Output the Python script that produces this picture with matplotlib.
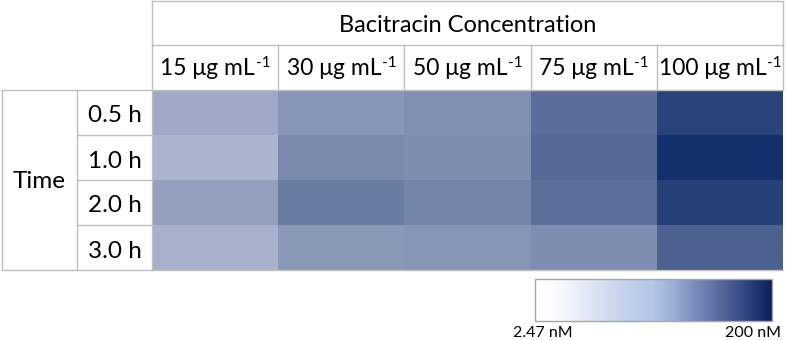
import matplotlib as mpl
import matplotlib.pyplot as plt
import numpy as np
from matplotlib.colors import LinearSegmentedColormap, Normalize

mpl.use('Agg')
plt.rcParams['font.family'] = ['Lato', 'DejaVu Sans']

# data (nM)
concentrations = ['15', '30', '50', '75', '100']
times = ['0.5 h', '1.0 h', '2.0 h', '3.0 h']
values = np.array([
    [82, 98, 103, 135, 177],
    [74, 108, 105, 138, 200],
    [91, 121, 113, 134, 181],
    [76, 96, 99, 105, 145],
])
vmin, vmax = 2.47, 200

# colour scales
cell_cmap = LinearSegmentedColormap.from_list('cells', [
    (0.0, '#ffffff'), (0.364, '#a9b3cd'), (0.533, '#7a8aad'),
    (0.672, '#5b6d98'), (0.723, '#4c6190'), (0.882, '#2b447b'),
    (1.0, '#13306c')])
bar_cmap = LinearSegmentedColormap.from_list('bar', [
    (0.0, '#ffffff'), (0.08, '#fbfcfe'), (0.2, '#e6ecf7'), (0.35, '#c8d5ed'),
    (0.5, '#b3c5e6'), (0.58, '#9cb0d8'), (0.67, '#7a8fbd'), (0.78, '#57699c'),
    (0.9, '#2c4280'), (1.0, '#0a1f5c')])
norm = Normalize(vmin=vmin, vmax=vmax)

W, H = 787, 340
fig = plt.figure(figsize=(W / 100, H / 100), dpi=100)
renderer = fig.canvas.get_renderer()

# layout in pixels
x0, x1 = 152, 783
ytop, yhead, ydata, ybot = 1, 45, 90, 270
line = dict(color='#bfbfbf', lw=1)

def fbox(l, t, r, b):
    return [l / W, 1 - b / H, (r - l) / W, (b - t) / H]

hax = fig.add_axes(fbox(x0, ydata, x1, ybot))
hax.pcolormesh(values, cmap=cell_cmap, norm=norm)
hax.set_xlim(0, values.shape[1])
hax.set_ylim(values.shape[0], 0)
hax.set_axis_off()

ov = fig.add_axes([0, 0, 1, 1], zorder=3)
ov.set_xlim(0, W)
ov.set_ylim(H, 0)
ov.set_axis_off()
ov.patch.set_alpha(0)

ncol, nrow = len(concentrations), len(times)
colw = (x1 - x0) / ncol
rowh = (ybot - ydata) / nrow
xl, xm = 2, 77

# header box
ov.plot([x0, x1, x1, x0, x0], [ytop, ytop, ydata, ydata, ytop], **line)
ov.plot([x0, x1], [yhead, yhead], **line)
for i in range(1, ncol):
    ov.plot([x0 + i * colw] * 2, [yhead, ydata], **line)
# left box
ov.plot([xl, x0, x0, xl, xl], [ydata, ydata, ybot, ybot, ydata], **line)
ov.plot([xm, xm], [ydata, ybot], **line)
for j in range(1, nrow):
    ov.plot([xm, x0], [ydata + j * rowh] * 2, **line)
ov.plot([x0, x1], [ybot, ybot], **line)

ov.text((x0 + x1) / 2, 32, 'Bacitracin Concentration',
        ha='center', va='baseline', fontsize=17)

# column labels with a raised "-1"
for i, c in enumerate(concentrations):
    cx = x0 + (i + 0.5) * colw
    base = ov.text(0, 75, c + ' μg mL', ha='left', va='baseline', fontsize=16.5)
    sup = ov.text(0, 67, '-1', ha='left', va='baseline', fontsize=11)
    wb = base.get_window_extent(renderer).width
    ws = sup.get_window_extent(renderer).width
    left = cx - (wb + ws) / 2
    base.set_x(left)
    sup.set_x(left + wb + 0.5)

ov.text((xl + xm) / 2, (ydata + ybot) / 2 + 1, 'Time', ha='center', va='center', fontsize=17.5)
for j, t in enumerate(times):
    ov.text((xm + x0) / 2, ydata + (j + 0.5) * rowh + 10, t,
            ha='center', va='baseline', fontsize=17.5)

# colour bar
cax = fig.add_axes(fbox(535, 279, 772, 321))
sm = mpl.cm.ScalarMappable(norm=norm, cmap=bar_cmap)
cb = fig.colorbar(sm, cax=cax, orientation='horizontal')
cb.set_ticks([])
cb.outline.set_edgecolor('#a6a6a6')
cb.outline.set_linewidth(1)
ov.text(513, 333, f'{vmin} nM', ha='left', va='center', fontsize=11.5)
ov.text(781, 333, f'{vmax:g} nM', ha='right', va='center', fontsize=11.5)

fig.savefig('out.png', dpi=100)
